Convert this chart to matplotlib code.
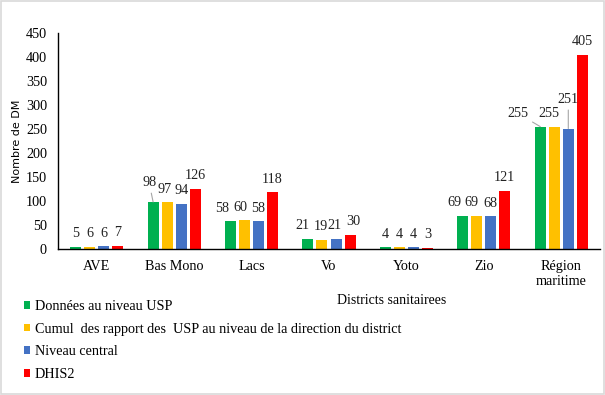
import matplotlib
matplotlib.use("Agg")
import matplotlib.pyplot as plt
import numpy as np
from matplotlib.patches import Patch, Rectangle

categories = ["AVE", "Bas Mono", "Lacs", "Vo", "Yoto", "Zio", "Région\nmaritime"]
series_names = ["Données au niveau USP",
                "Cumul  des rapport des  USP au niveau de la direction du district",
                "Niveau central",
                "DHIS2"]
usp = [5, 98, 58, 21, 4, 69, 255]
cumul = [5, 97, 60, 19, 4, 69, 255]
central = [6, 94, 58, 21, 4, 68, 251]
dhis2 = [7, 126, 118, 30, 3, 121, 405]
label_usp = [5, 98, 58, 21, 4, 69, 255]
label_cumul = [6, 97, 60, 19, 4, 69, 255]
yticks = list(range(0, 451, 50))

colors = ["#00b050", "#ffc000", "#4472c4", "#ff0000"]
serif = ["Liberation Serif", "DejaVu Serif"]
FS = 10.2

# label placement (points): horizontal shifts per series / category
label_dx = [
    [0, -2.9, -5.8, -4.0, 0, -5.8, -16.0],
    [0, -2.2, -3.3, -0.7, 0, -4.0, -3.6],
    [0, 0, 0, -1.0, 0, 0, 0],
    [0, 0, 0, 2.5, 0, 0, 0],
]
label_dy_default = 9.4
label_special = {(0, 1): 14.0, (2, 6): 21.0}
leaders = {(0, 1), (0, 6), (2, 6)}

fig = plt.figure(figsize=(6.05, 3.95), dpi=100)
ax = fig.add_axes([58/605, 1-249/395, 542/605, 216/395])

x = np.arange(len(categories))
pitch = 0.181
width = 0.142
all_vals = [usp, cumul, central, dhis2]
all_labels = [label_usp, label_cumul, central, dhis2]
for i, (vals, labs) in enumerate(zip(all_vals, all_labels)):
    xs = x + (i - 1.5) * pitch
    ax.bar(xs, vals, width=width, color=colors[i], zorder=2)
    for j, (xx, v, lab) in enumerate(zip(xs, vals, labs)):
        dx = label_dx[i][j]
        dy = label_special.get((i, j), label_dy_default)
        kw = dict(xy=(xx, v), xytext=(dx, dy), textcoords="offset points",
                  ha="center", va="center", fontsize=FS, family=serif, color="#222222")
        if (i, j) in leaders:
            kw["arrowprops"] = dict(arrowstyle="-", color="#a6a6a6", lw=0.8,
                                    shrinkA=1, shrinkB=0)
        ax.annotate(str(lab), **kw)

ax.set_xlim(-0.5, len(categories) - 0.5)
ax.set_ylim(0, 450)
ax.set_yticks(yticks)
ax.set_yticklabels([str(t) for t in yticks], family=serif, fontsize=FS)
ax.set_xticks(x)
ax.set_xticklabels(categories, family=serif, fontsize=FS, linespacing=1.2)
ax.tick_params(axis="y", length=0, pad=8)
ax.tick_params(axis="x", length=0, pad=8)
for s in ["top", "right"]:
    ax.spines[s].set_visible(False)
ax.spines["left"].set_color("#000000")
ax.spines["bottom"].set_color("#000000")
ax.spines["left"].set_linewidth(1.0)
ax.spines["bottom"].set_linewidth(1.0)

ax.set_ylabel("Nombre de DM", fontsize=8, family=["DejaVu Sans"])
ax.yaxis.set_label_coords(-0.067, 0.5)

fig.text(392/605, 1-300/395, "Districts sanitairees", ha="center", va="center",
         fontsize=10, family=serif)

handles = [Patch(facecolor=c, edgecolor="none") for c in colors]
leg = fig.legend(handles, series_names, loc="upper left",
                 bbox_to_anchor=(24/605, 1-300/395), frameon=False,
                 prop={"family": serif, "size": FS},
                 handlelength=0.45, handleheight=0.45, handletextpad=0.3,
                 labelspacing=0.68, borderpad=0, borderaxespad=0)

fig.patches.append(Rectangle((0.002, 0.002), 0.996, 0.996, transform=fig.transFigure,
                             fill=False, edgecolor="#d9d9d9", lw=1.2))

fig.savefig("out.png", dpi=100)
